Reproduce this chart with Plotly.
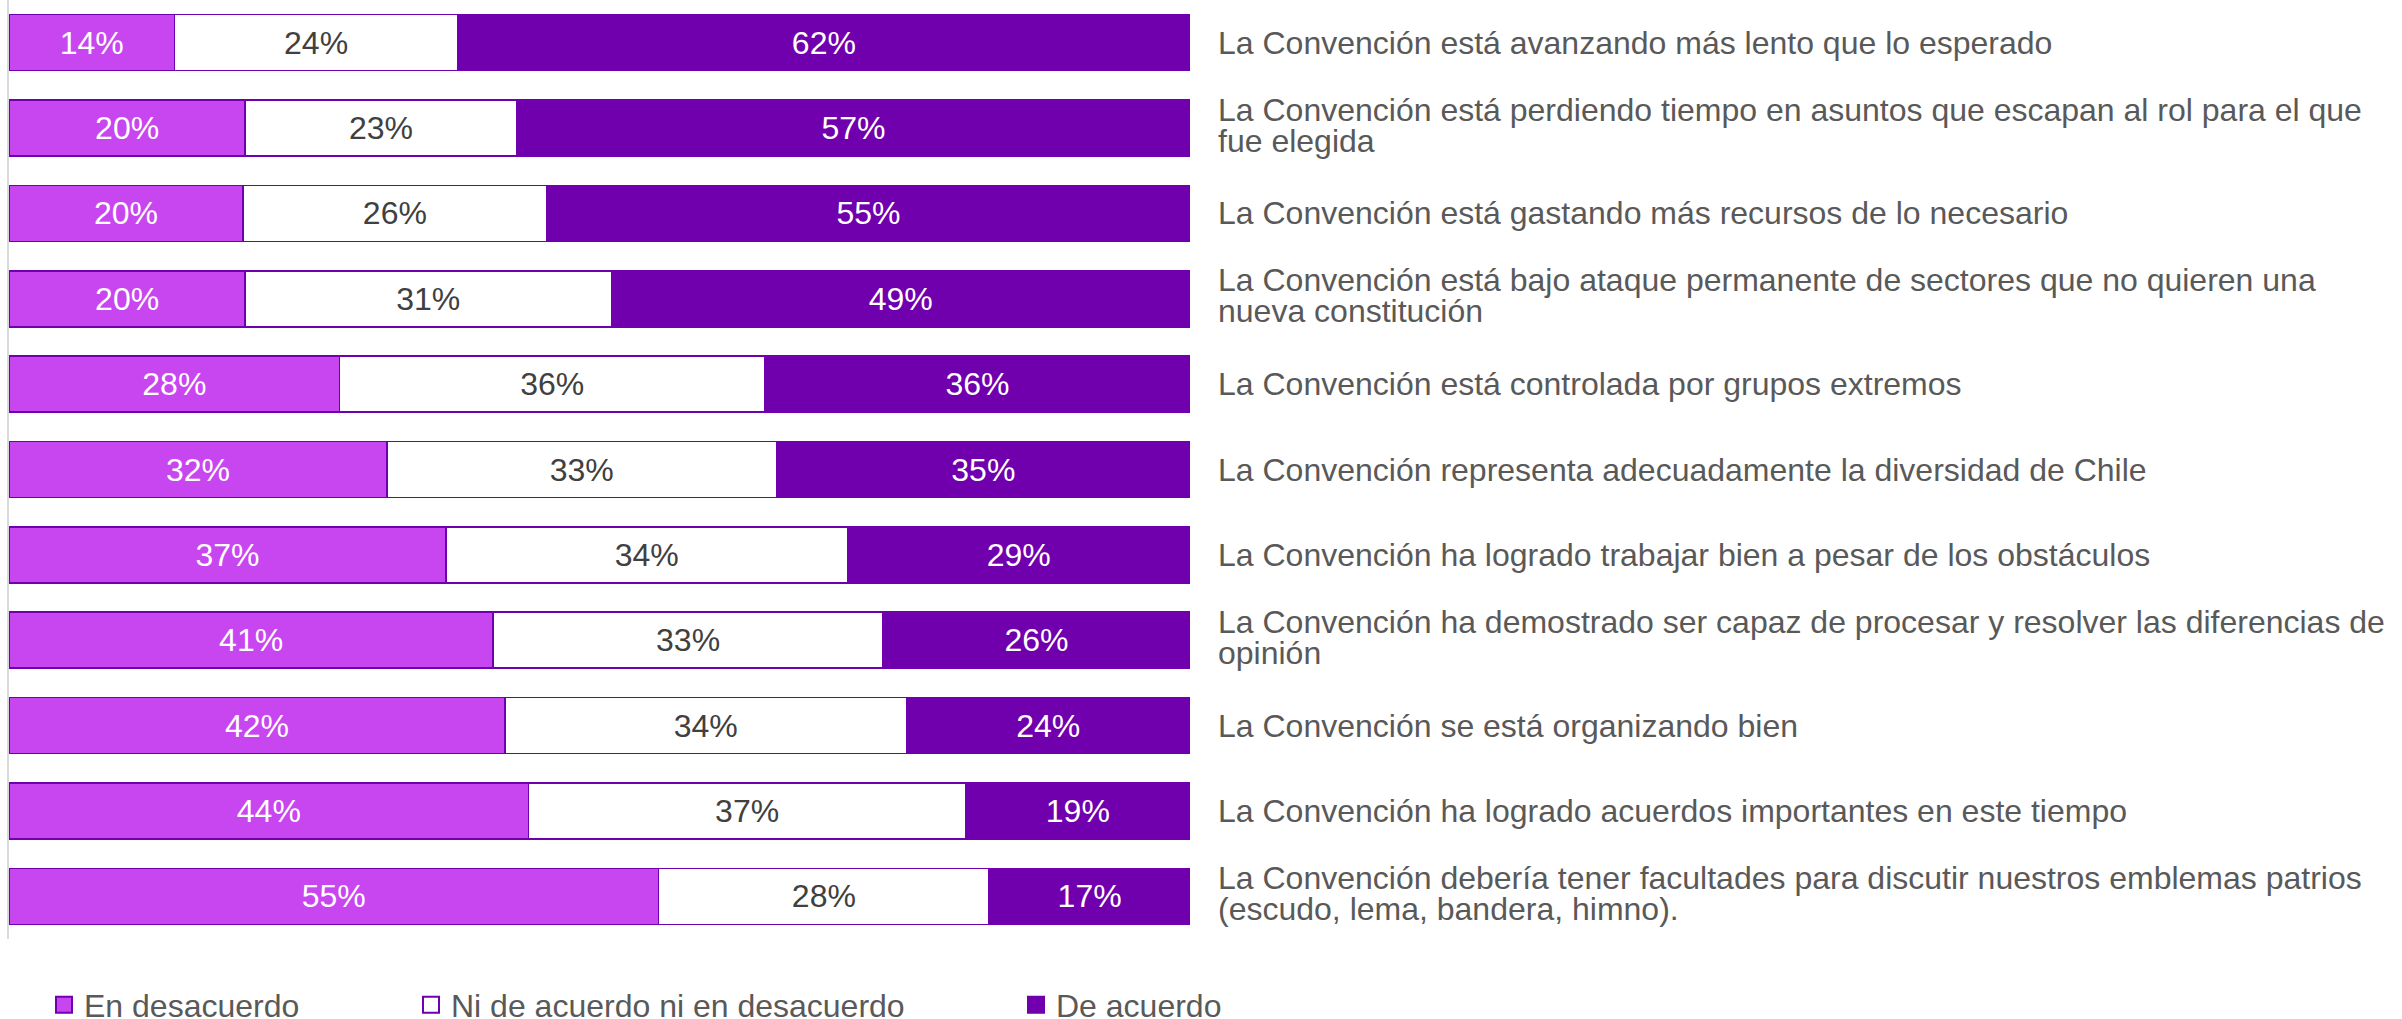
import plotly.graph_objects as go

# ---------------- data ----------------
statements = [
    "La Convención está avanzando más lento que lo esperado",
    "La Convención está perdiendo tiempo en asuntos que escapan al rol para el que\nfue elegida",
    "La Convención está gastando más recursos de lo necesario",
    "La Convención está bajo ataque permanente de sectores que no quieren una\nnueva constitución",
    "La Convención está controlada por grupos extremos",
    "La Convención representa adecuadamente la diversidad de Chile",
    "La Convención ha logrado trabajar bien a pesar de los obstáculos",
    "La Convención ha demostrado ser capaz de procesar y resolver las diferencias de\nopinión",
    "La Convención se está organizando bien",
    "La Convención ha logrado acuerdos importantes en este tiempo",
    "La Convención debería tener facultades para discutir nuestros emblemas patrios\n(escudo, lema, bandera, himno).",
]
en_desacuerdo = [14, 20, 20, 20, 28, 32, 37, 41, 42, 44, 55]
ni_ni = [24, 23, 26, 31, 36, 33, 34, 33, 34, 37, 28]
de_acuerdo = [62, 57, 55, 49, 36, 35, 29, 26, 24, 19, 17]
series_names = ["En desacuerdo", "Ni de acuerdo ni en desacuerdo", "De acuerdo"]

# ---------------- style ----------------
FONT = "Liberation Sans, Arial, sans-serif"
FS = 32
LIGHT = "#C846F0"
DARK = "#7000AE"
EDGE = "#7000AE"
fills = [LIGHT, "#FFFFFF", DARK]
text_colors = ["#FFFFFF", "#404040", "#FFFFFF"]
legend_ids = ["legend", "legend2", "legend3"]
legend_x_px = [44, 411, 1016]

cats = [s.replace("\n", " ") for s in statements]
series = [en_desacuerdo, ni_ni, de_acuerdo]

fig = go.Figure()
for name, vals, fill, tc in zip(series_names, series, fills, text_colors):
    fig.add_trace(go.Bar(
        orientation="h", x=vals, y=cats, name=name,
        text=[f"{v}%" for v in vals], textposition="inside",
        insidetextanchor="middle", textangle=0, constraintext="none",
        textfont=dict(family=FONT, size=FS, color=tc),
        marker=dict(color=fill, line=dict(color=EDGE, width=1.5)),
        width=0.656, showlegend=False, hoverinfo="skip",
    ))

# legend entries
for name, fill, lid in zip(series_names, fills, legend_ids):
    fig.add_trace(go.Scatter(
        x=[None], y=[None], mode="markers", name=name, legend=lid,
        marker=dict(symbol="square", size=16, color=fill,
                    line=dict(color=EDGE, width=2)),
        showlegend=True,
    ))

# category labels (right side), one annotation per line
annotations = []
LINE = 31
for cat, s in zip(cats, statements):
    lines = s.split("\n")
    n = len(lines)
    for i, ln in enumerate(lines):
        shift = ((n - 1) / 2 - i) * LINE + (3 if n > 1 else 0)
        annotations.append(dict(
            xref="paper", x=1, xshift=26, xanchor="left",
            yref="y", y=cat, yshift=shift, yanchor="middle",
            text=ln, showarrow=False, align="left",
            font=dict(family=FONT, size=FS, color="#595959"),
        ))

legend_common = dict(orientation="h", yref="container", y=14 / 1019,
                     yanchor="middle", xref="container", xanchor="left",
                     font=dict(family=FONT, size=FS, color="#595959"),
                     bgcolor="rgba(0,0,0,0)")
layout_legends = {}
for lid, px in zip(legend_ids, legend_x_px):
    layout_legends[lid] = dict(legend_common, x=px / 2402)

fig.update_layout(
    width=2402, height=1019,
    barmode="stack", barnorm="percent",
    plot_bgcolor="white", paper_bgcolor="white",
    margin=dict(l=9, r=1212, t=0, b=80, autoexpand=False),
    font=dict(family=FONT, size=FS, color="#595959"),
    xaxis=dict(range=[0, 100], visible=False, fixedrange=True),
    yaxis=dict(range=[len(cats) - 0.5, -0.5], showticklabels=False,
               showgrid=False, zeroline=False, showline=True,
               linecolor="#D9D9D9", linewidth=2, ticks="", fixedrange=True),
    annotations=annotations,
    uniformtext=dict(mode=False),
    **layout_legends,
)

fig.write_html(
    "out.html",
    config={"displayModeBar": False},
    post_script="document.body.style.margin='0';document.body.style.overflow='hidden';",
)
